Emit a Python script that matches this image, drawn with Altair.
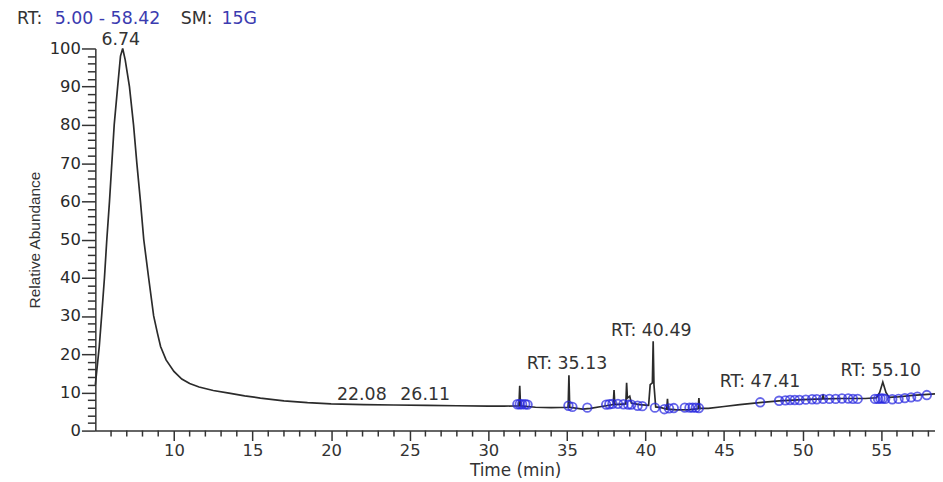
import altair as alt
import pandas as pd

# ---- chromatogram trace (Time min, Relative Abundance %) ----
rt = [5.00, 5.10, 5.25, 5.40, 5.58, 5.73, 5.90, 6.05, 6.20, 6.42, 6.60, 6.74, 6.90,
      7.17, 7.43, 7.64, 7.87, 8.08, 8.39, 8.71, 8.95, 9.15, 9.5, 10.0, 10.5, 11.0,
      11.6, 12.5, 13.5, 14.5, 15.5, 17.0, 18.5, 20.0, 22.08, 24.0, 26.11, 28.0, 30.0,
      31.0, 31.95, 32.0, 32.05,
      33.0, 34.0, 35.08, 35.13, 35.18, 36.0, 36.5, 37.2, 37.95, 38.0, 38.05, 38.75,
      38.8, 38.85, 39.0, 39.1, 39.6, 40.2, 40.3, 40.44, 40.49, 40.54, 40.65, 41.0,
      41.35, 41.4, 41.45, 42.0, 42.8, 43.35, 43.4, 43.45, 44.0, 45.0, 46.0, 47.41,
      48.5, 50.0, 51.25, 51.3, 51.35, 52.5, 54.0, 54.7, 54.9, 55.1, 55.3, 55.5, 56.0,
      57.0, 58.42]
abundance = [12, 16, 22, 30, 40, 50, 60, 70, 80, 90, 98, 100, 97,
             90, 80, 70, 60, 50, 40, 30, 25.5, 22, 18.5, 15.5, 13.5, 12.3,
             11.4, 10.5, 9.8, 9.1, 8.5, 7.8, 7.3, 7.0, 6.8, 6.7, 6.6, 6.5, 6.4,
             6.4, 6.5, 11.7, 6.5,
             6.1, 6.0, 6.1, 14.5, 6.1, 5.6, 5.8, 6.3, 6.8, 10.6, 6.8, 7.0,
             12.5, 8.5, 9.0, 7.2, 6.8, 6.6, 12.0, 12.5, 23.4, 12.0, 6.2, 6.0,
             5.6, 8.3, 5.6, 5.4, 5.5, 5.7, 8.5, 5.8, 5.8, 6.3, 6.8, 7.4,
             7.8, 8.1, 8.3, 9.5, 8.3, 8.4, 8.4, 8.6, 10.0, 12.7, 10.0, 8.7, 8.8,
             9.2, 9.6]

# ---- detected-peak markers (blue circles) ----
marker_rt = [31.85, 32.0, 32.15, 32.35, 32.5, 35.1, 35.35, 36.3, 37.5, 37.7, 37.9,
             38.25, 38.6, 38.9, 39.1, 39.5, 39.8, 40.6, 41.2, 41.5, 41.8, 42.5,
             42.8, 43.0, 43.2, 43.4, 47.3, 48.5, 48.9, 49.2, 49.5, 49.8, 50.2,
             50.6, 50.9, 51.3, 51.7, 52.1, 52.5, 52.9, 53.2, 53.5, 54.6, 54.8,
             54.95, 55.1, 55.25, 55.7, 56.1, 56.5, 56.9, 57.3, 57.9]
marker_ab = [6.9, 6.9, 6.9, 6.9, 6.8, 6.5, 6.2, 6.0, 6.8, 6.9, 7.0,
             7.0, 6.9, 6.8, 6.8, 6.5, 6.4, 6.0, 5.6, 5.8, 5.9, 6.0,
             6.0, 6.0, 6.0, 5.9, 7.4, 7.8, 7.9, 8.0, 8.0, 8.0, 8.1,
             8.2, 8.2, 8.3, 8.3, 8.3, 8.4, 8.4, 8.3, 8.3, 8.3, 8.3,
             8.4, 8.4, 8.3, 8.2, 8.3, 8.5, 8.7, 8.9, 9.3]

# ---- peak annotations ----
label_text = ["6.74", "22.08", "26.11", "RT: 35.13", "RT: 40.49", "RT: 47.41", "RT: 55.10"]
label_rt = [6.74, 22.08, 26.11, 35.13, 40.49, 47.41, 55.10]
label_ab = [102.3, 9.2, 9.2, 17.4, 26.0, 12.7, 15.6]

# ---- header pieces ----
header_text = ["RT:", "5.00 - 58.42", "SM:", "15G"]
header_color = ["#333333", "#3b3bb0", "#333333", "#3b3bb0"]

x_major = [10, 15, 20, 25, 30, 35, 40, 45, 50, 55]
x_minor = [v for v in range(6, 59) if v % 5 != 0]
y_major = [0, 10, 20, 30, 40, 50, 60, 70, 80, 90, 100]
y_minor = [v for v in range(2, 100, 2) if v % 10 != 0]

trace = pd.DataFrame({"rt": rt, "ab": abundance})
markers = pd.DataFrame({"rt": marker_rt, "ab": marker_ab})
labels = pd.DataFrame({"rt": label_rt, "ab": label_ab, "text": label_text})
xminor_df = pd.DataFrame({"v": x_minor})

W, H = 846, 385
FONT = "DejaVu Sans"
AX = "#333333"

xscale = alt.Scale(domain=[5.0, 58.42], nice=False, zero=False)
yscale = alt.Scale(domain=[0, 100], nice=False, zero=False)

line = alt.Chart(trace).mark_line(color="#2b2b2b", strokeWidth=1.7).encode(
    x=alt.X("rt:Q", scale=xscale,
            axis=alt.Axis(orient="bottom", values=x_major, tickSize=10, tickWidth=1.5,
                          domainWidth=1.5, domainColor=AX, tickColor=AX,
                          labelFont=FONT, labelFontSize=16.5, labelColor="#333333",
                          labelPadding=2, grid=False, format="d",
                          title="Time (min)", titleFont=FONT, titleFontSize=17,
                          titleFontWeight="normal", titleColor="#333333",
                          titleBaseline="middle", titleY=40, titleX=W / 2)),
    y=alt.Y("ab:Q", scale=yscale,
            axis=alt.Axis(orient="left", values=y_major, tickSize=14, tickWidth=1.5,
                          domainWidth=1.5, domainColor=AX, tickColor=AX,
                          labelFont=FONT, labelFontSize=16.5, labelColor="#2a2a2a",
                          labelPadding=1, grid=False,
                          title="Relative Abundance", titleFont="Liberation Sans",
                          titleFontSize=15.5, titleFontWeight="normal",
                          titleColor="#333333", titleBaseline="middle",
                          titleX=-61, titleY=H / 2, titleAngle=270)),
)

points = alt.Chart(markers).mark_point(
    shape="circle", filled=False, color="#2424e0", size=75, strokeWidth=1.8
).encode(
    x=alt.X("rt:Q", scale=xscale, axis=None),
    y=alt.Y("ab:Q", scale=yscale,
            axis=alt.Axis(orient="left", values=y_minor, tickSize=8, tickWidth=1.5,
                          tickColor=AX, labels=False, domain=False, grid=False,
                          title=None)),
)

# minor ticks along the time axis
xminor_ticks = alt.Chart(xminor_df).mark_rule(
    color=AX, strokeWidth=1.5
).encode(
    x=alt.X("v:Q", scale=xscale, axis=None),
    y=alt.value(H),
    y2=alt.value(H + 6),
)

peak_labels = alt.Chart(labels).mark_text(
    font=FONT, fontSize=17.5, color="#333333", align="center", baseline="middle", dx=-2
).encode(
    x=alt.X("rt:Q", scale=xscale, axis=None),
    y=alt.Y("ab:Q", scale=yscale, axis=None),
    text="text:N",
)

header_x = [-79, -41, 86, 127]
header_layers = []
for t, c, hx in zip(header_text, header_color, header_x):
    header_layers.append(
        alt.Chart(pd.DataFrame({"t": [t]})).mark_text(
            font=FONT, fontSize=17.5, color=c, align="left", baseline="middle"
        ).encode(x=alt.value(hx), y=alt.value(-30), text="t:N")
    )

chart = alt.layer(line, points, xminor_ticks, peak_labels, *header_layers).resolve_axis(
    x="independent", y="independent"
).properties(
    width=W, height=H,
    autosize=alt.AutoSizeParams(type="none"),
    padding={"left": 88, "top": 39, "right": 0, "bottom": 48},
    background="white",
).configure_view(stroke=None)

chart.save("out.html", embed_options={"renderer": "svg", "actions": False})
